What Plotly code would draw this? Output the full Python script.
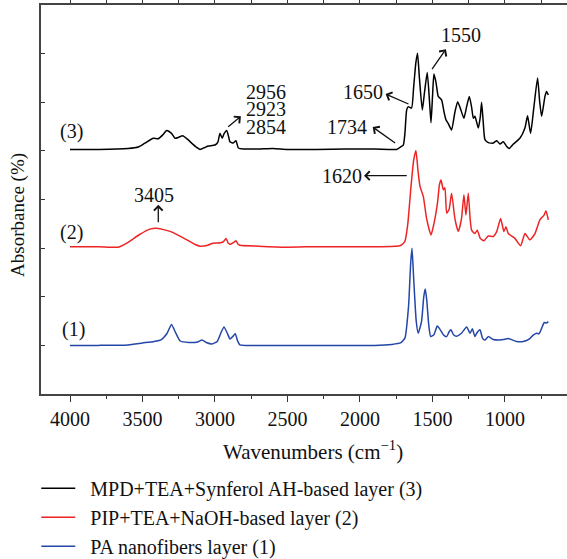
import plotly.graph_objects as go

# ---- data (wavenumber cm^-1, absorbance offset units) ----
wn_pa = [4000, 3800, 3600, 3500, 3420, 3370, 3330, 3300, 3270, 3240, 3180, 3120, 3090, 3060, 3020,
         2985, 2960, 2938, 2915, 2896, 2878, 2860, 2845, 2828, 2700, 2500, 2300, 2100, 1900, 1780,
         1720, 1690, 1665, 1650, 1641, 1630, 1612, 1598, 1575, 1560, 1550, 1540, 1525, 1512, 1490,
         1467, 1448, 1425, 1402, 1385, 1372, 1355, 1333, 1300, 1264, 1241, 1225, 1207, 1195, 1172,
         1155, 1138, 1115, 1081, 1034, 1010, 977, 920, 874, 828, 805, 782, 765, 747, 729, 715, 701]
ab_pa = [1.00, 1.00, 1.01, 1.05, 1.08, 1.12, 1.25, 1.43, 1.25, 1.09, 1.06, 1.07, 1.11, 1.06, 1.03,
         1.08, 1.25, 1.38, 1.25, 1.13, 1.18, 1.24, 1.10, 1.01, 1.00, 1.00, 1.00, 1.00, 1.00, 1.02,
         1.05, 1.15, 1.80, 2.70, 3.00, 2.40, 1.50, 1.25, 1.50, 2.00, 2.16, 1.95, 1.40, 1.18, 1.22,
         1.40, 1.33, 1.22, 1.18, 1.28, 1.32, 1.22, 1.19, 1.25, 1.38, 1.25, 1.34, 1.18, 1.25, 1.32,
         1.15, 1.11, 1.18, 1.12, 1.11, 1.12, 1.14, 1.08, 1.08, 1.14, 1.21, 1.25, 1.24, 1.35, 1.47, 1.46, 1.49]

wn_pip = [4000, 3800, 3667, 3600, 3520, 3450, 3402, 3340, 3288, 3200, 3140, 3103, 3050, 3014, 2960,
          2940, 2924, 2908, 2892, 2870, 2855, 2840, 2828, 2700, 2506, 2300, 2100, 1900, 1760, 1724,
          1700, 1690, 1670, 1650, 1630, 1614, 1600, 1586, 1563, 1540, 1510, 1490, 1476, 1464, 1452,
          1441, 1425, 1414, 1402, 1385, 1368, 1345, 1322, 1300, 1283, 1269, 1253, 1240, 1230, 1207,
          1191, 1170, 1145, 1115, 1081, 1057, 1030, 1007, 993, 977, 931, 892, 862, 828, 793, 759,
          730, 717, 701]
ab_pip = [3.03, 3.03, 3.02, 3.12, 3.28, 3.39, 3.41, 3.37, 3.32, 3.18, 3.08, 3.04, 3.06, 3.10, 3.11,
          3.14, 3.20, 3.10, 3.08, 3.12, 3.15, 3.08, 3.06, 3.04, 3.02, 3.03, 3.03, 3.03, 3.04, 3.05,
          3.10, 3.14, 3.50, 4.20, 4.80, 5.01, 4.60, 4.27, 4.06, 3.60, 3.27, 3.50, 3.72, 3.96, 4.30,
          4.40, 4.20, 4.24, 3.72, 3.80, 4.13, 3.60, 3.34, 3.60, 4.10, 3.68, 4.13, 3.60, 3.37, 3.30,
          3.37, 3.20, 3.15, 3.25, 3.24, 3.34, 3.61, 3.34, 3.44, 3.30, 3.20, 3.05, 3.30, 3.17, 3.30, 3.58,
          3.68, 3.77, 3.58]

wn_mpd = [4000, 3800, 3600, 3529, 3483, 3425, 3391, 3360, 3333, 3300, 3276, 3250, 3223, 3190, 3161,
          3130, 3103, 3070, 3046, 3000, 2980, 2966, 2950, 2938, 2919, 2905, 2897, 2874, 2855, 2839,
          2800, 2700, 2600, 2500, 2300, 2100, 1900, 1800, 1747, 1720, 1701, 1690, 1678, 1667, 1644,
          1630, 1615, 1603, 1590, 1570, 1555, 1536, 1520, 1510, 1500, 1490, 1475, 1460, 1437, 1420,
          1407, 1391, 1368, 1345, 1326, 1305, 1283, 1265, 1246, 1230, 1218, 1207, 1184, 1170, 1161,
          1150, 1138, 1115, 1081, 1057, 1034, 1011, 988, 970, 942, 897, 862, 844, 823, 800, 775, 760,
          747, 724, 713, 701]
ab_mpd = [5.03, 5.03, 5.05, 5.08, 5.16, 5.26, 5.25, 5.33, 5.42, 5.36, 5.26, 5.28, 5.31, 5.24, 5.16,
          5.08, 5.03, 5.07, 5.10, 5.12, 5.18, 5.36, 5.26, 5.35, 5.42, 5.28, 5.19, 5.16, 5.21, 5.06,
          5.04, 5.04, 5.05, 5.03, 5.03, 5.04, 5.04, 5.03, 5.03, 5.08, 5.12, 5.36, 5.84, 5.91, 5.88,
          6.30, 6.80, 7.01, 6.50, 5.84, 6.20, 6.61, 6.00, 5.58, 6.10, 6.58, 6.40, 6.12, 6.05, 5.80,
          5.64, 5.56, 5.43, 5.80, 6.01, 5.85, 5.67, 5.90, 6.12, 5.90, 5.67, 5.71, 5.47, 5.70, 6.00,
          5.60, 5.23, 5.17, 5.16, 5.21, 5.14, 5.19, 5.09, 5.05, 5.14, 5.26, 5.47, 5.72, 5.36, 5.91, 6.50, 6.00,
          5.71, 6.12, 6.22, 6.15]

series_names = ["MPD+TEA+Synferol AH-based layer (3)",
                "PIP+TEA+NaOH-based layer (2)",
                "PA nanofibers layer (1)"]
series_colors = ["#000000", "#ee2424", "#2446a8"]

# peak labels: text, x, y
peak_labels = ["3405", "2956", "2923", "2854", "1650", "1734", "1620", "1550"]
peak_label_x = [3421, 2645, 2645, 2645, 1982, 2090, 2126, 1302]
peak_label_y = [4.09, 6.22, 5.86, 5.50, 6.22, 5.49, 4.49, 7.39]

# arrows: tail (x0,y0) -> head (x1,y1)
arrow_x0 = [3391, 2919, 1655, 1747, 1667, 1510]
arrow_y0 = [3.50, 5.47, 5.95, 5.14, 4.49, 6.65]
arrow_x1 = [3391, 2821, 1823, 1912, 1972, 1407]
arrow_y1 = [3.89, 5.71, 6.17, 5.49, 4.49, 7.09]

curve_labels = ["(3)", "(2)", "(1)"]
curve_label_x = [3990, 3990, 3976]
curve_label_y = [5.40, 3.32, 1.33]

x_ticks = [4000, 3500, 3000, 2500, 2000, 1500, 1000]

FONT = "Liberation Serif"
FS = 20
FS_BIG = 21
PAD = "\u00a0\u00a0"  # small gap between legend line and its text

fig = go.Figure()
for wn, ab, name, col in zip([wn_mpd, wn_pip, wn_pa], [ab_mpd, ab_pip, ab_pa], series_names, series_colors):
    fig.add_trace(go.Scatter(x=wn, y=ab, mode="lines", name=PAD + name,
                             line=dict(color=col, width=1.5, shape="spline", smoothing=0.5)))

annotations = []
for t, x, y in zip(peak_labels, peak_label_x, peak_label_y):
    annotations.append(dict(x=x, y=y, xref="x", yref="y", text=t, showarrow=False,
                            xanchor="center", yanchor="middle",
                            font=dict(family=FONT, size=FS, color="#111")))
for t, x, y in zip(curve_labels, curve_label_x, curve_label_y):
    annotations.append(dict(x=x, y=y, xref="x", yref="y", text=t, showarrow=False,
                            xanchor="center", yanchor="middle",
                            font=dict(family=FONT, size=FS, color="#111")))
for x0, y0, x1, y1 in zip(arrow_x0, arrow_y0, arrow_x1, arrow_y1):
    annotations.append(dict(x=x1, y=y1, ax=x0, ay=y0, xref="x", yref="y", axref="x", ayref="y",
                            text="", showarrow=True, arrowhead=4, arrowsize=1.3, arrowwidth=1.3,
                            arrowcolor="#111", standoff=0, startstandoff=0))
# axis titles
annotations.append(dict(x=-0.044, y=0.46, xref="paper", yref="paper", text="Absorbance (%)",
                        textangle=-90, showarrow=False, xanchor="center", yanchor="middle",
                        font=dict(family=FONT, size=19, color="#111")))
annotations.append(dict(x=0.517, y=-0.144, xref="paper", yref="paper",
                        text="Wavenumbers (cm<sup>−1</sup>)", showarrow=False,
                        xanchor="center", yanchor="middle",
                        font=dict(family=FONT, size=FS_BIG, color="#111")))

fig.update_layout(
    width=567, height=559,
    margin=dict(l=41, r=0, t=5, b=165, autoexpand=False),
    paper_bgcolor="white", plot_bgcolor="white",
    font=dict(family=FONT, size=FS, color="#111"),
    showlegend=True,
    legend=dict(x=-0.009, y=-0.192, xanchor="left", yanchor="top",
                font=dict(family=FONT, size=FS, color="#111"),
                bgcolor="rgba(0,0,0,0)", tracegroupgap=0, itemwidth=34),
    annotations=annotations,
)
fig.update_xaxes(range=[4200, 572], tickvals=x_ticks, ticktext=[str(v) for v in x_ticks],
                 ticks="outside", ticklen=6, tickwidth=1.2, tickcolor="#333",
                 minor=dict(dtick=250, tick0=0, ticks="outside", ticklen=3, tickcolor="#333"),
                 showline=True, linecolor="#444", linewidth=1.5, mirror="ticks",
                 showgrid=False, zeroline=False, automargin=False,
                 tickfont=dict(family=FONT, size=FS, color="#111"))
fig.update_yaxes(range=[0, 8], dtick=1, tick0=0, ticks="inside", ticklen=4, tickcolor="#333",
                 showticklabels=False, showline=True, linecolor="#444", linewidth=1.5,
                 mirror=False, showgrid=False, zeroline=False, automargin=False)

fig.write_html("out.html", config={"displayModeBar": False},
               post_script="document.body.style.margin='0px';")
